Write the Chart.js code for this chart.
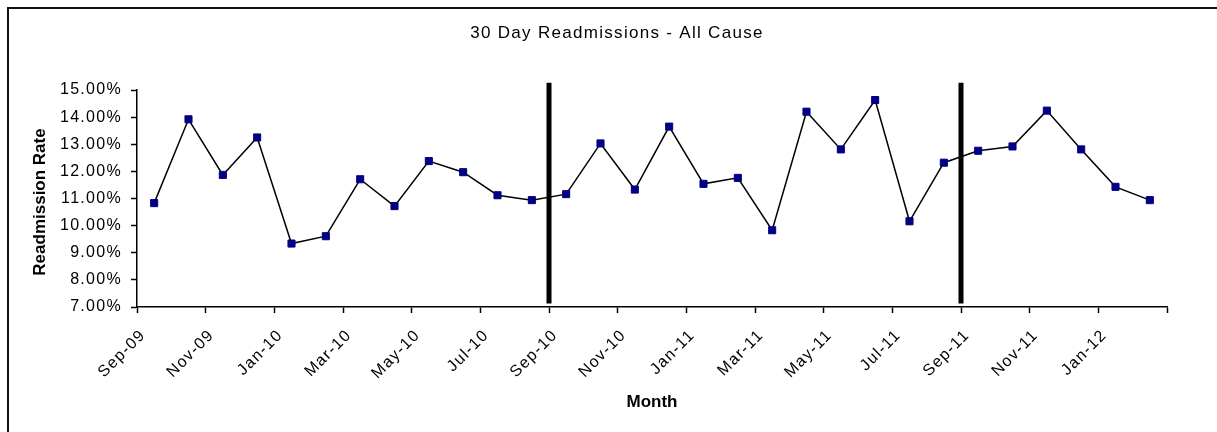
<!DOCTYPE html>
<html>
<head>
<meta charset="utf-8">
<script src="https://cdn.jsdelivr.net/npm/chart.js@4"></script>
<style>
  body { margin: 0; background: #fff; }
  #wrap { position: relative; width: 1217px; height: 432px; overflow: hidden; }
  #frame { position: absolute; left: 7px; top: 7px; width: 1300px; height: 500px;
           border-left: 2px solid #111; border-top: 2px solid #111; pointer-events: none; }
  canvas { position: absolute; left: 0; top: 0; }
</style>
</head>
<body>
<div id="wrap">
  <canvas id="readmitChart" width="1217" height="432"></canvas>
  <div id="frame"></div>
</div>
<script>
// months Sep-09 .. Feb-12
const months = ['Sep-09','Oct-09','Nov-09','Dec-09','Jan-10','Feb-10','Mar-10','Apr-10','May-10','Jun-10',
  'Jul-10','Aug-10','Sep-10','Oct-10','Nov-10','Dec-10','Jan-11','Feb-11','Mar-11','Apr-11',
  'May-11','Jun-11','Jul-11','Aug-11','Sep-11','Oct-11','Nov-11','Dec-11','Jan-12','Feb-12'];
// readmission rate, percent
const rates = [10.83, 13.92, 11.87, 13.25, 9.34, 9.61, 11.71, 10.72, 12.38, 11.97,
  11.12, 10.94, 11.16, 13.03, 11.33, 13.65, 11.54, 11.76, 9.83, 14.20,
  12.81, 14.63, 10.16, 12.32, 12.76, 12.92, 14.24, 12.81, 11.43, 10.94];
// thick vertical markers
const dividerMonths = ['Sep-10', 'Sep-11'];
const dividerLow = 7.13, dividerHigh = 15.27;

const FONT = 'Liberation Sans, Arial, sans-serif';

const points = rates.map((v, i) => ({ x: i + 0.5, y: v }));

const dividerSets = dividerMonths.map(m => {
  const x = months.indexOf(m);
  return {
    data: [{ x: x, y: dividerLow }, { x: x, y: dividerHigh }],
    borderColor: '#000',
    borderWidth: 5,
    pointRadius: 0,
    clip: false,
    order: 2
  };
});

// spacing for tick and title text, axis titles drawn by hand
const textPlugin = {
  id: 'textPlugin',
  beforeDraw(chart) {
    chart.ctx.letterSpacing = '1.3px';
  },
  afterDraw(chart) {
    const ctx = chart.ctx;
    const area = chart.chartArea;
    ctx.save();
    ctx.letterSpacing = '0px';
    ctx.fillStyle = '#000';
    ctx.font = 'bold 17px ' + FONT;
    ctx.textAlign = 'center';
    ctx.textBaseline = 'middle';
    ctx.fillText('Month', (area.left + area.right) / 2, 402);
    ctx.translate(40, 202);
    ctx.rotate(-Math.PI / 2);
    ctx.fillText('Readmission Rate', 0, 0);
    ctx.restore();
  }
};

new Chart(document.getElementById('readmitChart'), {
  type: 'line',
  data: {
    datasets: [{
      data: points,
      borderColor: '#000',
      borderWidth: 1.5,
      pointStyle: 'rect',
      pointRadius: 5,
      pointBorderWidth: 1,
      pointBackgroundColor: '#000080',
      pointBorderColor: '#000080',
      order: 1
    }, ...dividerSets]
  },
  options: {
    responsive: false,
    animation: false,
    layout: { padding: { left: 17, right: 0, top: 0, bottom: 0 } },
    plugins: {
      legend: { display: false },
      tooltip: { enabled: false },
      title: {
        display: true,
        text: '30 Day Readmissions - All Cause',
        color: '#000',
        font: { family: FONT, size: 17, weight: 'normal' },
        padding: { top: 23.5, bottom: 46.1 }
      }
    },
    scales: {
      x: {
        type: 'linear',
        min: 0,
        max: 30,
        afterFit(scale) { scale.height = 125; },
        grid: { drawOnChartArea: false, drawTicks: true, tickLength: 6, color: '#000', tickWidth: 1.5 },
        border: { color: '#000', width: 1.5 },
        ticks: {
          stepSize: 2,
          autoSkip: false,
          minRotation: 45,
          maxRotation: 45,
          padding: 13,
          labelOffset: 6,
          color: '#000',
          font: { family: FONT, size: 16 },
          callback: (v) => (v < months.length ? months[v] : '')
        }
      },
      y: {
        min: 7,
        max: 15,
        afterFit(scale) { scale.width = 120; },
        grid: { drawOnChartArea: false, drawTicks: true, tickLength: 6, color: '#000', tickWidth: 1.5 },
        border: { color: '#000', width: 1.5 },
        ticks: {
          stepSize: 1,
          padding: 9,
          color: '#000',
          font: { family: FONT, size: 16 },
          callback: (v) => v.toFixed(2) + '%'
        }
      },
      spacer: {
        position: 'right',
        afterFit(scale) { scale.width = 50; },
        grid: { display: false },
        border: { display: false },
        ticks: { display: false }
      }
    }
  },
  plugins: [textPlugin]
});
</script>
</body>
</html>
